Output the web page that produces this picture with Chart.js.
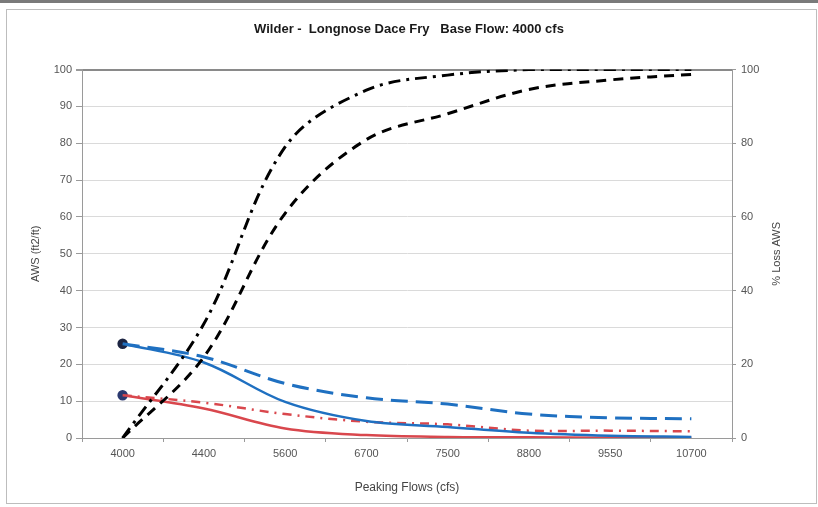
<!DOCTYPE html>
<html lang="en">
<head>
    <meta charset="UTF-8">
    <title>Wilder - Longnose Dace Fry</title>
    <script src="https://cdn.jsdelivr.net/npm/chart.js"></script>
    <style>
        body { margin: 0; background: #fff; }
        #wrap { position: relative; width: 818px; height: 507px; }
        /* outer frame like the pasted Excel chart */
        #topBar { position: absolute; left: 0; top: 0; width: 818px; height: 3px; background: #7a7a7a; }
        #frame { position: absolute; left: 6px; top: 9px; width: 809px; height: 493px; border: 1px solid #bdbdbd; }
        #chartBox { position: absolute; left: 0; top: 0; width: 818px; height: 507px; }
    </style>
</head>
<body>
<div id="wrap">
    <div id="topBar"></div>
    <div id="frame"></div>
    <div id="chartBox"><canvas id="awsChart"></canvas></div>
</div>

<script>
    // peaking flow categories (cfs)
    const flows = ['4000', '4400', '5600', '6700', '7500', '8800', '9550', '10700'];

    // AWS (ft2/ft) - left axis
    const awsBlueSolid   = [25.6, 20.5, 9.8, 4.6, 3.0, 1.4, 0.6, 0.3];
    const awsBlueDashed  = [25.6, 22.0, 14.8, 10.9, 9.2, 6.5, 5.5, 5.2];
    const awsRedSolid    = [11.6, 8.0, 2.6, 0.8, 0.3, 0.2, 0.1, 0.1];
    const awsRedDashDot  = [11.6, 9.6, 6.5, 4.4, 3.7, 2.0, 2.0, 1.8];

    // % loss AWS - right axis
    const lossDashDot = [0, 31, 79, 94.4, 98.5, 100, 100, 100];
    const lossDashed  = [0, 22, 61, 81, 88, 94.6, 97.2, 98.7];

    const leftTicks = [0, 10, 20, 30, 40, 50, 60, 70, 80, 90, 100];
    const rightTicks = [0, 20, 40, 60, 80, 100];

    const FONT = 'Liberation Sans, Arial, sans-serif';
    const BLUE = '#1f70c1';
    const RED = '#d9474d';
    const MARK = '#1d2542';
    const SMOOTH = 0.35;

    // marker only on the base flow point
    const firstOnly = flows.map((_, i) => i === 0 ? 4 : 0);

    // right axis title reads bottom-to-top, like the left one
    const rightTitle = {
        id: 'rightTitle',
        afterDraw(chart) {
            const ctx = chart.ctx;
            const area = chart.chartArea;
            ctx.save();
            ctx.translate(777, (area.top + area.bottom) / 2);
            ctx.rotate(-Math.PI / 2);
            ctx.font = '11px ' + FONT;
            ctx.fillStyle = '#444';
            ctx.textAlign = 'center';
            ctx.textBaseline = 'middle';
            ctx.fillText('% Loss AWS', 0, 0);
            ctx.restore();
        }
    };

    const ctx = document.getElementById('awsChart').getContext('2d');
    new Chart(ctx, {
        type: 'line',
        data: {
            labels: flows,
            datasets: [
                {
                    label: 'Loss dash-dot',
                    data: lossDashDot,
                    yAxisID: 'y1',
                    borderColor: '#000',
                    borderWidth: 3,
                    borderDash: [12, 6, 3, 6],
                    pointRadius: 0,
                    tension: SMOOTH
                },
                {
                    label: 'Loss dashed',
                    data: lossDashed,
                    yAxisID: 'y1',
                    borderColor: '#000',
                    borderWidth: 3,
                    borderDash: [10, 7],
                    pointRadius: 0,
                    tension: SMOOTH
                },
                {
                    label: 'AWS blue dashed',
                    data: awsBlueDashed,
                    yAxisID: 'y',
                    borderColor: BLUE,
                    borderWidth: 3,
                    borderDash: [17, 8],
                    pointRadius: 0,
                    tension: SMOOTH
                },
                {
                    label: 'AWS blue',
                    data: awsBlueSolid,
                    yAxisID: 'y',
                    borderColor: BLUE,
                    borderWidth: 2.5,
                    pointRadius: firstOnly,
                    pointBackgroundColor: MARK,
                    pointBorderColor: MARK,
                    tension: SMOOTH
                },
                {
                    label: 'AWS red dash-dot',
                    data: awsRedDashDot,
                    yAxisID: 'y',
                    borderColor: RED,
                    borderWidth: 2.5,
                    borderDash: [9, 6, 2, 6],
                    pointRadius: 0,
                    tension: SMOOTH
                },
                {
                    label: 'AWS red',
                    data: awsRedSolid,
                    yAxisID: 'y',
                    borderColor: RED,
                    borderWidth: 2.5,
                    pointRadius: firstOnly,
                    pointBackgroundColor: '#2c3a70',
                    pointBorderColor: '#2c3a70',
                    tension: SMOOTH
                }
            ]
        },
        options: {
            responsive: true,
            maintainAspectRatio: false,
            animation: false,
            layout: { padding: 0 },
            plugins: {
                legend: { display: false },
                tooltip: { enabled: false },
                title: {
                    display: true,
                    text: 'Wilder -  Longnose Dace Fry   Base Flow: 4000 cfs',
                    color: '#1a1a1a',
                    font: { family: FONT, size: 13, weight: 'bold' },
                    padding: { top: 22, bottom: 32 }
                }
            },
            scales: {
                x: {
                    offset: true,
                    grid: {
                        offset: true,
                        drawOnChartArea: false,
                        tickLength: 4,
                        tickColor: '#9a9a9a'
                    },
                    border: { color: '#9a9a9a' },
                    ticks: { color: '#555', font: { family: FONT, size: 11 }, padding: 5, maxRotation: 0 },
                    title: {
                        display: true,
                        text: 'Peaking Flows (cfs)',
                        color: '#444',
                        font: { family: FONT, size: 12 },
                        padding: { top: 0, bottom: 12 }
                    },
                    afterFit: s => { s.height = 69; }
                },
                y: {
                    position: 'left',
                    min: 0,
                    max: 100,
                    afterBuildTicks: s => { s.ticks = leftTicks.map(v => ({ value: v })); },
                    grid: {
                        color: c => c.tick && c.tick.value === 100 ? '#8a8a8a' : '#dadada',
                        lineWidth: c => c.tick && c.tick.value === 100 ? 2 : 1,
                        tickLength: 6,
                        tickColor: '#9a9a9a'
                    },
                    border: { color: '#9a9a9a' },
                    ticks: { color: '#555', font: { family: FONT, size: 11 }, padding: 4 },
                    title: {
                        display: true,
                        text: 'AWS (ft2/ft)',
                        color: '#444',
                        font: { family: FONT, size: 11 },
                        padding: { top: 29, bottom: 0 }
                    },
                    afterFit: s => { s.width = 82; }
                },
                y1: {
                    position: 'right',
                    min: 0,
                    max: 100,
                    afterBuildTicks: s => { s.ticks = rightTicks.map(v => ({ value: v })); },
                    grid: {
                        drawOnChartArea: false,
                        tickLength: 4,
                        tickColor: '#9a9a9a'
                    },
                    border: { color: '#9a9a9a' },
                    ticks: { color: '#555', font: { family: FONT, size: 11 }, padding: 5 },
                    afterFit: s => { s.width = 86; }
                }
            }
        },
        plugins: [rightTitle]
    });
</script>
</body>
</html>
